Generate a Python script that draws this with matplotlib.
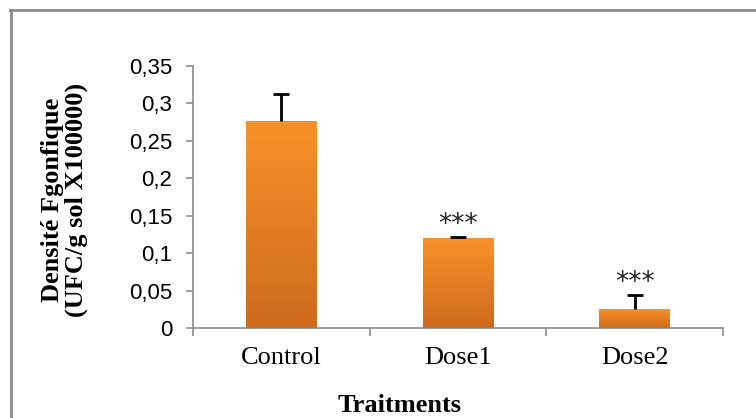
import numpy as np
import matplotlib
matplotlib.use('Agg')
import matplotlib.pyplot as plt
from matplotlib.lines import Line2D
from matplotlib.colors import LinearSegmentedColormap

# data
categories = ['Control', 'Dose1', 'Dose2']
values = [0.276, 0.120, 0.025]
errors = [0.036, 0.001, 0.019]
stars = ['', '***', '***']
yticks = [0, 0.05, 0.1, 0.15, 0.2, 0.25, 0.3, 0.35]
ytick_labels = ['0', '0,05', '0,1', '0,15', '0,2', '0,25', '0,3', '0,35']

fig = plt.figure(figsize=(7.56, 4.18), dpi=100)
ax = fig.add_axes([0.2553, 0.2153, 0.7010, 0.6268])

# outer chart frame (only top and left edges visible)
grey = '#8c8c8c'
fig.add_artist(Line2D([10/756, 1.0], [1 - 10/418, 1 - 10/418], color=grey, lw=2, transform=fig.transFigure))
fig.add_artist(Line2D([11/756, 11/756], [0, 1 - 10/418], color=grey, lw=2, transform=fig.transFigure))

x = np.arange(len(categories))
bars = ax.bar(x, values, width=0.4, color='#f28b28', zorder=2)

# gradient fill clipped to each bar
cmap = LinearSegmentedColormap.from_list('org', ['#cf6a1e', '#f7922a'])
grad = np.linspace(0, 1, 256).reshape(-1, 1)
for b in bars:
    x0, y0 = b.get_x(), b.get_y()
    w, h = b.get_width(), b.get_height()
    im = ax.imshow(grad, cmap=cmap, origin='lower', aspect='auto',
                   extent=[x0, x0 + w, y0, y0 + h], zorder=3)
    im.set_clip_path(b)

# upper error bars only, cap on top
eb = ax.errorbar(x, values, yerr=[np.zeros(len(values)), errors], fmt='none',
                 ecolor='black', elinewidth=2, capsize=6, capthick=2, zorder=4)
eb[1][0].set_visible(False)

for xi, v, e, s in zip(x, values, errors, stars):
    if s:
        ax.text(xi, v + e + 0.016, s, ha='center', va='center', fontsize=19,
                family='DejaVu Sans', color='#222222')

ax.set_xlim(-0.5, 2.5)
ax.set_ylim(0, 0.35)
ax.set_yticks(yticks)
ax.set_yticklabels(ytick_labels, family='Liberation Sans', fontsize=16)
ax.set_xticks(x)
ax.set_xticklabels(categories, family='Liberation Serif', fontsize=19)
ax.set_xticks([-0.5, 0.5, 1.5, 2.5], minor=True)
ax.tick_params(axis='x', which='major', length=0, pad=14)
ax.tick_params(axis='x', which='minor', length=6, color=grey, width=1.2)
ax.tick_params(axis='y', length=5, color=grey, width=1.2, pad=10)

for side in ['top', 'right']:
    ax.spines[side].set_visible(False)
for side in ['left', 'bottom']:
    ax.spines[side].set_color(grey)
    ax.spines[side].set_linewidth(1.2)

ax.set_xlabel('Traitments', family='Liberation Serif', fontweight='bold', fontsize=19)
ax.xaxis.set_label_coords(0.39, -0.25)
ax.set_ylabel('Densité Fgonfique\n(UFC/g sol X100000)', family='Liberation Serif',
              fontweight='bold', fontsize=19, linespacing=1.05)
ax.yaxis.set_label_coords(-0.198, 0.489)

fig.savefig('out.png', dpi=100)
